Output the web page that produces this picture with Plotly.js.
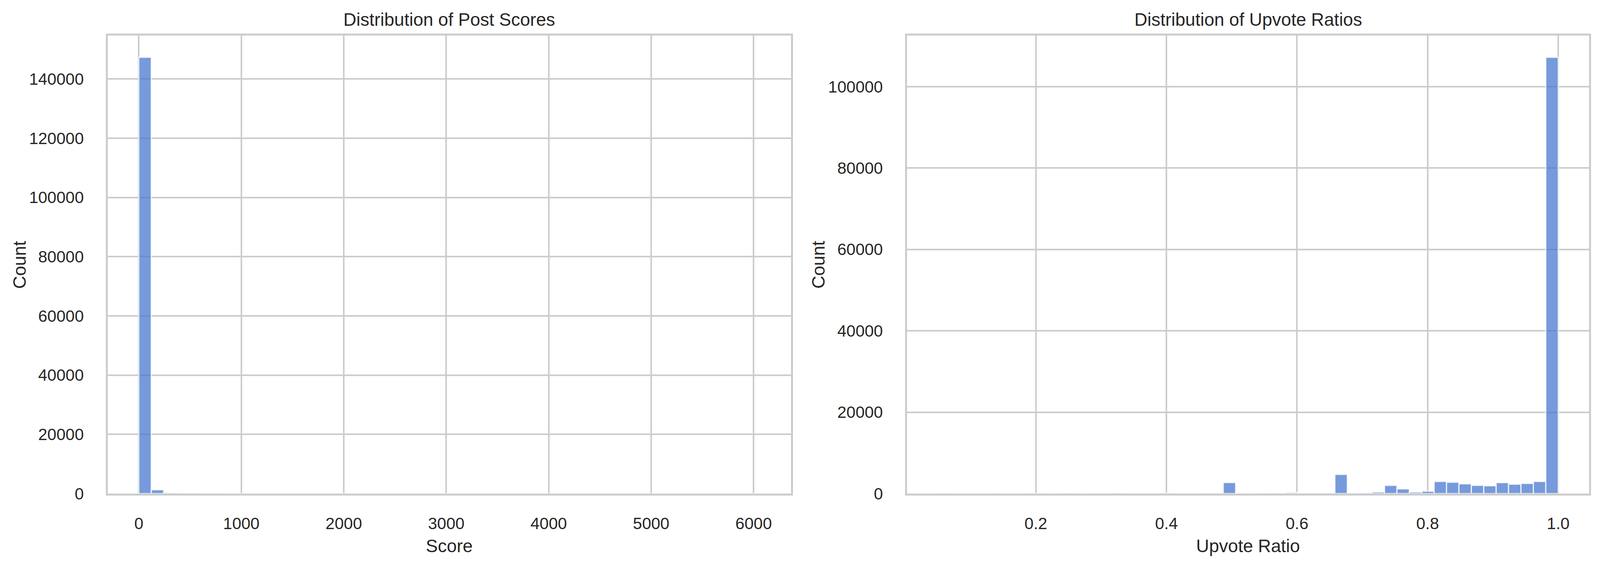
<!DOCTYPE html>
<html>
<head>
<meta charset="utf-8">
<script src="https://cdn.plot.ly/plotly-3.0.1.min.js"></script>
<style>html,body{margin:0;padding:0;overflow:hidden;background:white}</style>
</head>
<body>
<div id="graphe"></div>
<script>
// histogram bins (50 bins each)
let score_start = 0
let score_bin_width = 121.2
let score_counts = [147300, 1300, 250, 100, 50, 30, 20, 12, 8, 6,
    5, 4, 3, 3, 2, 2, 2, 1, 1, 1,
    1, 1, 1, 0, 1, 0, 1, 0, 0, 1,
    0, 0, 0, 1, 0, 0, 0, 0, 1, 0,
    0, 0, 0, 0, 0, 0, 0, 0, 0, 1]

let ratio_start = 0.05
let ratio_bin_width = 0.019
let ratio_counts = [20, 5, 5, 5, 10, 5, 10, 30, 10, 10,
    40, 10, 15, 20, 100, 20, 30, 40, 100, 30,
    40, 50, 60, 2700, 40, 60, 80, 90, 290, 90,
    100, 120, 4710, 140, 180, 390, 2020, 1150, 390, 580,
    2980, 2790, 2400, 2020, 1920, 2690, 2310, 2500, 2980, 107200]

let x_ticks_score = [0, 1000, 2000, 3000, 4000, 5000, 6000]
let x_ticks_ratio = [0.2, 0.4, 0.6, 0.8, 1.0]
let y_ticks_score = [0, 20000, 40000, 60000, 80000, 100000, 120000, 140000]
let y_ticks_ratio = [0, 20000, 40000, 60000, 80000, 100000]

function bin_centers(start, width, n){
    let centers = new Array()
    for (let i = 0; i < n; i++){
        centers.push(start + (i + 0.5)*width)
    }
    return centers
}

// matplotlib style 5% margins around the data
function padded(lo, hi){
    let m = 0.05*(hi - lo)
    return [lo - m, hi + m]
}

// the window may be narrower than the 4453 px reference, so work in fractions of it
let W = window.innerWidth || 4453
let H = window.innerHeight || 1452
let REF_W = 4453
let REF_H = 1452
let kx = W/REF_W
let text_color = "#262626"
let grid_color = "#cccccc"
let font = "Liberation Sans, Arial, sans-serif"
let tick_size = 42
let label_size = 46
let plot_top = 91
let plot_bottom = 1264

function make_bars(start, width, counts, xa, ya){
    return {
        type : "bar", xaxis : xa, yaxis : ya,
        x : bin_centers(start, width, counts.length), y : counts, width : width,
        marker : {color : "rgba(72,120,208,0.75)", line : {color : "rgba(255,255,255,0.8)", width : 3}},
        hoverinfo : "skip", showlegend : false
    }
}

// empty trace so the label-only axis gets drawn
function empty_trace(xa, ya){
    return {type : "scatter", mode : "markers", x : [], y : [], xaxis : xa, yaxis : ya,
        hoverinfo : "skip", showlegend : false}
}

function x_axis(domain, range, ticks, anchor){
    return {
        domain : domain, range : range, anchor : anchor,
        tickvals : ticks, showticklabels : false,
        showgrid : true, gridcolor : grid_color, gridwidth : 4,
        showline : true, linecolor : grid_color, linewidth : 5, mirror : true,
        zeroline : false, ticks : ""
    }
}

// tick labels on a free axis placed a bit under the frame, like matplotlib's pad
function x_labels(base, ticks, fmt){
    return {
        overlaying : base, matches : base, anchor : "free",
        position : 1 - (plot_bottom + 48)/REF_H,
        tickvals : ticks, tickformat : fmt,
        showgrid : false, showline : false, zeroline : false, ticks : "",
        tickfont : {family : font, size : tick_size, color : text_color}
    }
}

function y_axis(range, ticks, anchor){
    return {
        domain : [1 - plot_bottom/REF_H, 1 - plot_top/REF_H], range : range, anchor : anchor,
        tickvals : ticks, tickformat : "d",
        showgrid : true, gridcolor : grid_color, gridwidth : 4,
        showline : true, linecolor : grid_color, linewidth : 5, mirror : true,
        zeroline : false, ticks : "", ticklabelstandoff : Math.round(52*kx),
        tickfont : {family : font, size : tick_size, color : text_color}
    }
}

function label(text, x_px, y_px, angle){
    return {text : text, xref : "paper", yref : "paper", x : x_px/REF_W, y : 1 - y_px/REF_H,
        xanchor : "center", yanchor : "middle", textangle : angle, showarrow : false,
        font : {family : font, size : label_size, color : text_color}}
}

let score_max = score_start + score_bin_width*score_counts.length
let ratio_max = ratio_start + ratio_bin_width*ratio_counts.length

let data = [
    make_bars(score_start, score_bin_width, score_counts, "x", "y"),
    make_bars(ratio_start, ratio_bin_width, ratio_counts, "x2", "y2"),
    empty_trace("x3", "y"),
    empty_trace("x4", "y2")
]

let layout = {
    width : W, height : H,
    margin : {l : 0, r : 0, t : 0, b : 0, pad : 0},
    paper_bgcolor : "white", plot_bgcolor : "white",
    bargap : 0,
    font : {family : font, color : text_color},
    xaxis : x_axis([300/REF_W, 2201/REF_W], padded(score_start, score_max), x_ticks_score, "y"),
    yaxis : y_axis([0, padded(0, Math.max(...score_counts))[1]], y_ticks_score, "x"),
    xaxis2 : x_axis([2524/REF_W, 4423/REF_W], padded(ratio_start, ratio_max), x_ticks_ratio, "y2"),
    yaxis2 : y_axis([0, padded(0, Math.max(...ratio_counts))[1]], y_ticks_ratio, "x2"),
    xaxis3 : x_labels("x", x_ticks_score, "d"),
    xaxis4 : x_labels("x2", x_ticks_ratio, ".1f"),
    annotations : [
        label("Distribution of Post Scores", (300 + 2201)/2, 50, 0),
        label("Distribution of Upvote Ratios", (2524 + 4423)/2, 50, 0),
        label("Score", (300 + 2201)/2, 1398, 0),
        label("Upvote Ratio", (2524 + 4423)/2, 1398, 0),
        label("Count", 54, 678, -90),
        label("Count", 2278, 678, -90)
    ]
}

Plotly.newPlot("graphe", data, layout, {staticPlot : true})
</script>
</body>
</html>
